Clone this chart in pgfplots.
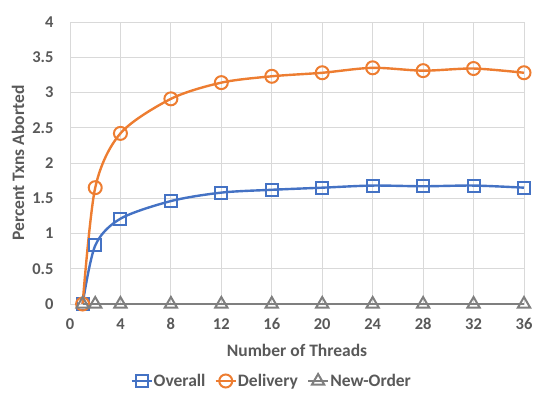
\documentclass[border=0pt]{standalone}
\usepackage{fontspec}
\setmainfont{Carlito}[BoldFont={Carlito Bold}]
\usepackage{pgfplots}
\pgfplotsset{compat=1.18}
\definecolor{xlblue}{HTML}{4472C4}
\definecolor{xlorange}{HTML}{ED7D31}
\definecolor{xlgray}{HTML}{7F7F7F}
\definecolor{xltext}{HTML}{595959}
\definecolor{xlgrid}{HTML}{D9D9D9}
\pgfplotstableread{
x overall delivery neworder
1 0 0 0
2 0.83 1.65 0
4 1.21 2.42 0
8 1.46 2.91 0
12 1.58 3.14 0
16 1.62 3.23 0
20 1.65 3.28 0
24 1.68 3.35 0
28 1.67 3.31 0
32 1.68 3.34 0
36 1.65 3.28 0
}\abortdata
\begin{document}
\begin{tikzpicture}
\begin{axis}[
  name=ax,
  scale only axis,
  width=454pt, height=282pt,
  xmin=0, xmax=36, ymin=0, ymax=4,
  xtick={0,4,...,36}, ytick={0,0.5,...,4},
  axis line style={draw=xlgrid},
  grid=major, grid style={draw=xlgrid, line width=0.8pt},
  tick style={draw=none},
  ticklabel style={font=\fontsize{16.5}{18}\selectfont\bfseries, text=xltext},
  /pgf/number format/assume math mode=true,
  yticklabel style={xshift=-13pt},
  xticklabel style={yshift=-11pt},
  xlabel={Number of Threads}, ylabel={Percent Txns Aborted},
  label style={font=\fontsize{17.5}{19}\selectfont\bfseries, text=xltext},
  xlabel style={at={(0.5,-46pt)}, anchor=center},
  ylabel style={at={(-52pt,0.5)}, anchor=center},
  legend columns=3,
  legend style={at={(0.443,-77pt)}, anchor=center, draw=none, fill=none,
    font=\fontsize{17.5}{19}\selectfont\bfseries, text=xltext,
    column sep=0pt, inner sep=0pt,
    nodes={inner xsep=1pt},
    /tikz/every even column/.append style={column sep=8pt}},
  legend image code/.code={%
    \draw[mark repeat=2, mark phase=2] plot coordinates {(0pt,0pt) (10pt,0pt) (20pt,0pt)};},
  legend cell align=left,
  every axis plot/.append style={line width=2.4pt},
  clip=false,
]
\addplot[xlblue, smooth, mark=square, mark size=6pt, mark options={line width=2pt, fill=white}]
  table[x=x, y=overall] {\abortdata};
\addplot[xlorange, smooth, mark=o, mark size=6.5pt, mark options={line width=2pt, fill=white}]
  table[x=x, y=delivery] {\abortdata};
\addplot[xlgray, mark=triangle, mark size=7pt, mark options={line width=2pt, fill=white}]
  table[x=x, y=neworder] {\abortdata};
\legend{Overall, Delivery, New-Order}
\end{axis}
\pgfresetboundingbox
\path ([xshift=-70pt,yshift=-100pt]ax.south west) rectangle ([xshift=13pt,yshift=22pt]ax.north east);
\end{tikzpicture}
\end{document}
